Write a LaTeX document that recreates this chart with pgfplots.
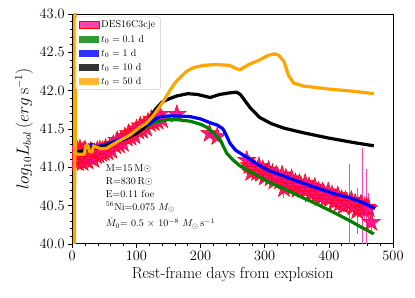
\documentclass[border=0pt]{standalone}
\usepackage{pgfplots}
\usepackage{pgfplotstable}
\pgfplotsset{compat=1.18}
\definecolor{dpink}{RGB}{255,20,147}
\definecolor{ebpink}{RGB}{255,70,170}
\definecolor{mplgreen}{RGB}{0,128,0}
\definecolor{mplorange}{RGB}{255,165,0}

\pgfdeclareplotmark{fstar}{%
 \pgfpathmoveto{\pgfpointpolar{90}{\pgfplotmarksize}}%
 \pgfpathlineto{\pgfpointpolar{126}{0.382\pgfplotmarksize}}%
 \pgfpathlineto{\pgfpointpolar{162}{\pgfplotmarksize}}%
 \pgfpathlineto{\pgfpointpolar{198}{0.382\pgfplotmarksize}}%
 \pgfpathlineto{\pgfpointpolar{234}{\pgfplotmarksize}}%
 \pgfpathlineto{\pgfpointpolar{270}{0.382\pgfplotmarksize}}%
 \pgfpathlineto{\pgfpointpolar{306}{\pgfplotmarksize}}%
 \pgfpathlineto{\pgfpointpolar{342}{0.382\pgfplotmarksize}}%
 \pgfpathlineto{\pgfpointpolar{18}{\pgfplotmarksize}}%
 \pgfpathlineto{\pgfpointpolar{54}{0.382\pgfplotmarksize}}%
 \pgfpathclose
 \pgfusepathqfillstroke}

\pgfplotstableread{
x y e
3 41.20 0.04
4 41.10 0.04
5 41.24 0.05
6 41.07 0.04
7 41.15 0.04
8 41.22 0.05
9 41.06 0.04
10 41.17 0.04
11 41.12 0.04
12 41.24 0.05
13 41.08 0.04
14 41.19 0.04
15 41.13 0.04
16 41.06 0.04
17 41.21 0.04
18 41.15 0.04
19 41.10 0.04
20 41.23 0.05
22 41.15 0.04
24 41.08 0.04
25 41.19 0.04
27 41.13 0.04
29 41.21 0.04
31 41.16 0.04
33 41.10 0.04
35 41.19 0.04
37 41.15 0.04
39 41.22 0.04
41 41.16 0.04
43 41.23 0.04
45 41.18 0.04
47 41.22 0.04
49 41.19 0.04
52 41.25 0.04
55 41.20 0.04
58 41.25 0.04
61 41.22 0.04
64 41.30 0.04
67 41.28 0.04
70 41.35 0.04
73 41.29 0.04
76 41.35 0.04
79 41.31 0.04
82 41.40 0.04
85 41.38 0.04
88 41.44 0.04
91 41.39 0.04
94 41.44 0.04
97 41.41 0.04
100 41.50 0.04
103 41.47 0.04
106 41.54 0.04
109 41.48 0.04
112 41.54 0.04
115 41.51 0.04
118 41.59 0.04
121 41.57 0.04
124 41.63 0.04
127 41.58 0.04
130 41.63 0.04
133 41.60 0.04
136 41.69 0.05
140 41.62 0.05
163 41.69 0.05
214 41.44 0.05
226 41.40 0.05
272 41.09 0.05
276 41.02 0.05
279 40.93 0.05
282 41.01 0.05
285 40.97 0.05
288 40.93 0.06
291 41.01 0.05
294 40.92 0.05
297 40.97 0.06
300 40.87 0.05
303 40.92 0.05
306 40.96 0.08
309 40.86 0.05
312 40.91 0.15
315 40.82 0.05
318 40.90 0.06
321 40.86 0.05
324 40.82 0.06
327 40.90 0.05
330 40.72 0.12
333 40.86 0.05
336 40.76 0.06
339 40.81 0.05
342 40.85 0.06
345 40.75 0.05
348 40.80 0.06
351 40.71 0.05
354 40.79 0.06
357 40.75 0.05
360 40.71 0.07
363 40.79 0.05
366 40.70 0.06
369 40.75 0.05
372 40.65 0.06
375 40.70 0.05
378 40.74 0.08
381 40.64 0.06
384 40.69 0.05
387 40.60 0.06
390 40.68 0.07
393 40.64 0.05
396 40.60 0.06
399 40.68 0.08
402 40.59 0.06
405 40.64 0.07
408 40.54 0.06
411 40.59 0.08
414 40.63 0.06
417 40.53 0.12
420 40.58 0.08
423 40.49 0.07
426 40.57 0.08
429 40.53 0.10
432 40.52 0.52
435 40.57 0.08
438 40.48 0.10
441 40.53 0.12
444 40.43 0.30
447 40.48 0.10
450 40.52 0.12
453 40.45 0.80
456 40.47 0.15
459 40.48 0.50
462 40.46 0.20
466 40.28 0.12
}\datatab

\pgfplotstableread{
x y
5 41.22
10 41.20
15 41.21
20 41.22
25 41.24
30 41.27
40 41.26
50 41.28
60 41.31
70 41.34
80 41.37
90 41.41
100 41.45
110 41.50
120 41.55
130 41.59
140 41.61
150 41.62
165 41.62
184 41.60
200 41.56
210 41.52
220 41.45
231 41.35
241 41.18
250 41.10
261 41.02
280 40.93
308 40.80
330 40.72
360 40.60
381 40.52
410 40.40
433 40.30
450 40.22
470 40.13
}\greentab

\pgfplotstableread{
x y
5 41.22
10 41.20
20 41.23
25 41.27
30 41.30
35 41.28
40 41.27
50 41.29
60 41.32
70 41.35
80 41.38
90 41.42
100 41.46
110 41.51
120 41.57
130 41.63
137 41.66
150 41.67
165 41.67
184 41.66
200 41.63
215 41.58
226 41.55
235 41.50
240 41.42
246 41.31
255 41.22
272 41.13
290 41.03
308 40.95
328 40.89
350 40.82
381 40.73
410 40.65
433 40.60
455 40.53
472 40.46
}\bluetab

\pgfplotstableread{
x y
5 41.20
10 41.20
20 41.22
30 41.26
40 41.25
50 41.27
60 41.30
70 41.33
80 41.36
90 41.40
100 41.44
110 41.50
120 41.62
130 41.76
140 41.85
150 41.89
163 41.93
180 41.96
195 41.95
215 41.91
230 41.95
245 41.97
256 41.98
262 41.95
277 41.78
292 41.65
310 41.57
330 41.51
360 41.45
400 41.38
440 41.32
470 41.28
}\blacktab

\pgfplotstableread{
x y
3.5 39.0
4.2 44.0
5 41.18
9 41.17
19 41.17
21 41.28
25 41.28
27 41.20
31 41.20
33 41.28
38 41.26
45 41.24
54 41.25
70 41.33
90 41.42
105 41.52
115 41.57
125 41.66
132 41.74
142 41.86
152 42.00
160 42.10
168 42.17
178 42.25
189 42.30
205 42.33
225 42.34
245 42.33
255 42.29
261 42.27
275 42.34
292 42.40
305 42.46
315 42.48
322 42.46
330 42.38
337 42.20
345 42.10
360 42.06
400 42.02
440 41.99
470 41.96
}\orangetab

\begin{document}
\begin{tikzpicture}
\begin{axis}[
 name=main,
 scale only axis, width=321pt, height=230pt,
 xmin=0, xmax=500, ymin=40, ymax=43,
 clip marker paths=true,
 xtick={0,100,200,300,400,500},
 ytick={40,40.5,41,41.5,42,42.5,43},
 minor x tick num=4, minor y tick num=4,
 tick align=outside, tick pos=left,
 major tick length=4pt, minor tick length=2.2pt,
 every tick/.style={black, line width=0.6pt},
 axis line style={line width=0.7pt},
 yticklabel style={/pgf/number format/.cd, fixed, fixed zerofill, precision=1},
 ticklabel style={font=\fontsize{14.5}{17}\selectfont},
 xlabel={Rest-frame days from explosion},
 ylabel={$log_{10}L_{bol}\,(erg\,\mathrm{s}^{-1})$},
 label style={font=\fontsize{16}{19}\selectfont},
 legend style={at={(0.01,0.988)}, anchor=north west, draw=black!20, rounded corners=2pt,
   fill=white, fill opacity=0.8, text opacity=1, font=\fontsize{10}{12}\selectfont,
   inner xsep=3pt, inner ysep=2pt, row sep=1.6pt},
 legend cell align=left,
]
\addplot[only marks, mark=fstar, mark size=9.5pt,
  mark options={fill=dpink, draw=red, line width=0.5pt},
  legend image code/.code={\path[sharp corners,fill=dpink,draw=red,line width=0.6pt] (0pt,-3.5pt) rectangle (20pt,3.5pt);},
  error bars/.cd, y dir=both, y explicit,
  error bar style={ebpink, line width=1pt}, error mark=none]
  table[x=x, y=y, y error=e] {\datatab};
\addlegendentry{DES16C3cje}
\addplot[mplgreen, line width=3.2pt, line join=round,
  legend image code/.code={\path[sharp corners,draw=none,fill=mplgreen] (0pt,-3.5pt) rectangle (20pt,3.5pt);}] table[x=x,y=y] {\greentab};
\addlegendentry{$t_0 = 0.1$ d}
\addplot[blue, line width=3.2pt, line join=round,
  legend image code/.code={\path[sharp corners,draw=none,fill=blue] (0pt,-3.5pt) rectangle (20pt,3.5pt);}] table[x=x,y=y] {\bluetab};
\addlegendentry{$t_0 = 1$ d}
\addplot[black, line width=3.2pt, line join=round,
  legend image code/.code={\path[sharp corners,draw=none,fill=black] (0pt,-3.5pt) rectangle (20pt,3.5pt);}] table[x=x,y=y] {\blacktab};
\addlegendentry{$t_0 = 10$ d}
\addplot[mplorange, line width=3.2pt, line join=round,
  legend image code/.code={\path[sharp corners,draw=none,fill=mplorange] (0pt,-3.5pt) rectangle (20pt,3.5pt);}] table[x=x,y=y] {\orangetab};
\addlegendentry{$t_0 = 50$ d}
\begin{scope}[every node/.style={anchor=base west, inner sep=0pt, font=\fontsize{10}{12}\selectfont}]
\node at (axis cs:52,40.94) {M=15\,M$\odot$};
\node at (axis cs:52,40.77) {R=830\,R$\odot$};
\node at (axis cs:52,40.60) {E=0.11 foe};
\node at (axis cs:52,40.44) {$^{56}$Ni=0.075 $M_{\odot}$};
\node at (axis cs:52,40.22) {$\dot{M}_0$= 0.5 $\times$ 10$^{-8}$ $M_{\odot}\,\mathrm{s}^{-1}$};
\end{scope}
\end{axis}
\pgfresetboundingbox
\path[use as bounding box] ([xshift=-72.3pt,yshift=-54pt]main.south west) rectangle ([xshift=22pt,yshift=14pt]main.north east);
\end{tikzpicture}
\end{document}
